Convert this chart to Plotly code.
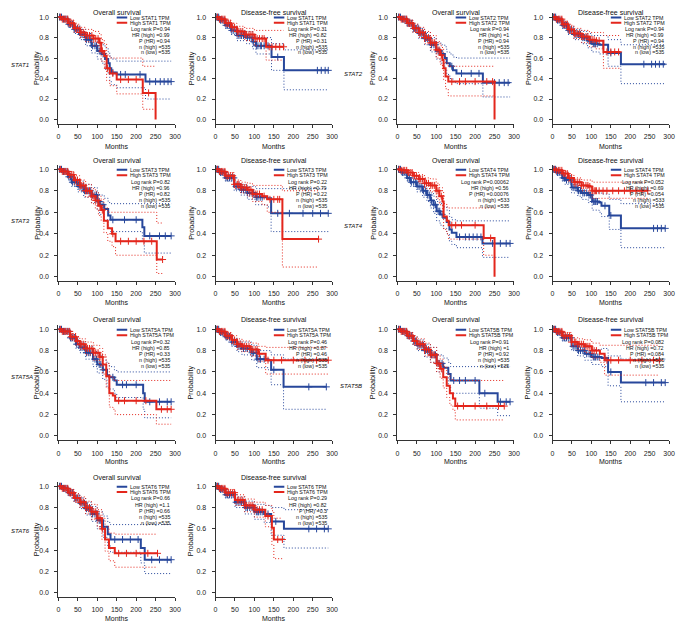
import plotly.graph_objects as go

# the page adds an 8px body margin, so the figure is 16px smaller than the window
W, H = 677, 616
OFF = 8
BLUE = "#27479b"
RED = "#e3261c"
FONT = "Liberation Sans, Arial, sans-serif"

genes = ["STAT1", "STAT2", "STAT3", "STAT4", "STAT5A", "STAT5B", "STAT6"]
month_ticks = [0, 50, 100, 150, 200, 250, 300]
prob_ticks = [0.0, 0.2, 0.4, 0.6, 0.8, 1.0]

# text in the top-right of each panel
os_logrank = ["0.94", "0.94", "0.82", "0.00062", "0.32", "0.91", "0.66"]
os_hr = ["0.99", "1", "0.96", "0.56", "0.85", "1", "1.1"]
os_phr = ["0.94", "0.94", "0.82", "0.00076", "0.33", "0.92", "0.66"]
os_nhigh = ["535", "535", "535", "533", "535", "535", "535"]
os_nlow = ["535", "535", "535", "535", "535", "535", "535"]
dfs_logrank = ["0.31", "0.94", "0.22", "0.052", "0.46", "0.082", "0.29"]
dfs_hr = ["0.82", "0.99", "0.79", "0.69", "0.87", "0.72", "0.82"]
dfs_phr = ["0.31", "0.94", "0.22", "0.054", "0.46", "0.084", "0.3"]
dfs_nhigh = ["535", "535", "535", "533", "535", "535", "535"]
dfs_nlow = ["535", "535", "535", "535", "535", "535", "535"]

# KM curves: (month, survival, lower CI, upper CI)
stat1_os_low = [(0, 1, 1, 1), (10, .98, .96, 1), (25, .93, .90, .96), (40, .88, .84, .92), (55, .83, .78, .88),
                (70, .78, .72, .84), (85, .72, .65, .79), (100, .67, .59, .75), (112, .64, .55, .73), (120, .59, .49, .70),
                (128, .55, .44, .66), (132, .50, .38, .62), (136, .46, .34, .59), (150, .44, .31, .57),
                (224, .37, .20, .57), (290, .37, .20, .57)]
stat1_os_high = [(0, 1, 1, 1), (10, .98, .96, 1), (25, .94, .91, .97), (40, .89, .85, .93), (55, .85, .80, .90),
                 (70, .82, .76, .88), (90, .79, .72, .86), (105, .75, .66, .84), (110, .67, .57, .78), (118, .62, .51, .74),
                 (124, .50, .38, .63), (132, .45, .33, .60), (150, .39, .25, .60), (217, .26, .10, .52), (250, 0, .10, .52)]
stat1_dfs_low = [(0, 1, 1, 1), (10, .97, .95, .99), (25, .92, .89, .95), (40, .87, .83, .91), (55, .82, .77, .87),
                 (80, .80, .74, .86), (95, .76, .69, .83), (104, .72, .64, .80), (144, .61, .48, .74),
                 (176, .48, .29, .68), (290, .48, .29, .68)]
stat1_dfs_high = [(0, 1, 1, 1), (10, .98, .96, 1), (25, .94, .91, .97), (40, .90, .86, .94), (55, .86, .81, .91),
                  (75, .83, .77, .89), (100, .79, .72, .87), (130, .71, .58, .87), (175, .71, .58, .87)]

stat2_os_low = [(0, 1, 1, 1), (10, .98, .96, 1), (25, .94, .91, .97), (40, .89, .85, .93), (55, .84, .79, .89),
                (70, .79, .73, .85), (85, .73, .66, .80), (100, .67, .59, .75), (112, .64, .55, .73), (122, .60, .50, .71),
                (127, .55, .44, .66), (135, .52, .40, .64), (143, .48, .36, .61), (152, .45, .35, .60),
                (220, .36, .22, .60), (290, .36, .22, .60)]
stat2_os_high = [(0, 1, 1, 1), (10, .98, .96, 1), (25, .94, .91, .97), (40, .89, .85, .93), (55, .85, .80, .90),
                 (70, .80, .74, .86), (85, .75, .68, .82), (100, .68, .60, .76), (110, .63, .54, .72), (116, .58, .48, .69),
                 (119, .50, .39, .62), (124, .42, .30, .55), (131, .37, .23, .52), (250, 0, .23, .52)]
stat2_dfs_low = [(0, 1, 1, 1), (10, .97, .95, .99), (25, .92, .89, .95), (40, .87, .83, .91), (55, .83, .78, .88),
                 (75, .80, .74, .86), (90, .77, .70, .84), (101, .74, .66, .82), (120, .73, .64, .82),
                 (143, .65, .52, .78), (176, .54, .35, .73), (290, .54, .35, .73)]
stat2_dfs_high = [(0, 1, 1, 1), (10, .98, .96, 1), (25, .93, .90, .96), (40, .88, .84, .92), (55, .84, .79, .89),
                  (75, .81, .75, .87), (95, .78, .71, .85), (110, .77, .69, .85), (131, .66, .50, .82), (175, .66, .50, .82)]

stat3_os_low = [(0, 1, 1, 1), (10, .98, .96, 1), (25, .93, .90, .96), (34, .88, .84, .92), (50, .84, .79, .89),
                (65, .80, .74, .86), (85, .76, .69, .83), (100, .70, .62, .78), (106, .67, .58, .76), (118, .63, .53, .73),
                (128, .57, .46, .69), (134, .53, .42, .68), (216, .46, .33, .68), (221, .38, .22, .68), (290, .38, .22, .68)]
stat3_os_high = [(0, 1, 1, 1), (10, .98, .96, 1), (25, .95, .92, .98), (40, .90, .86, .94), (55, .85, .80, .90),
                 (70, .80, .74, .86), (85, .75, .68, .82), (95, .71, .63, .79), (103, .66, .57, .75), (110, .62, .52, .72),
                 (117, .52, .41, .64), (127, .45, .33, .60), (138, .40, .28, .60), (147, .33, .20, .60),
                 (253, .16, .03, .50), (268, .16, .03, .50)]
stat3_dfs_low = [(0, 1, 1, 1), (10, .97, .95, .99), (25, .92, .89, .95), (48, .84, .80, .88), (65, .81, .76, .86),
                 (82, .78, .72, .84), (103, .74, .67, .82), (133, .73, .65, .82), (143, .59, .42, .82), (290, .59, .42, .82)]
stat3_dfs_high = [(0, 1, 1, 1), (10, .98, .96, 1), (25, .94, .91, .97), (48, .86, .82, .90), (65, .83, .78, .88),
                  (82, .81, .75, .87), (95, .77, .70, .85), (120, .75, .67, .85), (133, .72, .60, .85),
                  (172, .35, .09, .80), (265, .35, .09, .80)]

stat4_os_low = [(0, 1, 1, 1), (10, .97, .95, .99), (25, .92, .89, .95), (34, .88, .84, .92), (50, .84, .79, .89),
                (65, .80, .74, .86), (76, .76, .70, .82), (85, .71, .64, .78), (93, .67, .59, .75), (101, .61, .52, .70),
                (110, .58, .48, .68), (118, .55, .45, .65), (127, .51, .40, .62), (134, .44, .33, .56),
                (140, .41, .30, .53), (152, .37, .27, .52), (219, .31, .18, .52), (290, .31, .18, .52)]
stat4_os_high = [(0, 1, 1, 1), (10, .99, .98, 1), (25, .97, .95, .99), (40, .94, .91, .97), (55, .91, .87, .95),
                 (70, .87, .82, .92), (85, .85, .79, .91), (100, .80, .73, .87), (108, .75, .67, .83),
                 (116, .70, .60, .80), (119, .56, .44, .68), (127, .52, .40, .65), (132, .48, .35, .64),
                 (222, .36, .20, .64), (250, 0, .20, .64)]
stat4_dfs_low = [(0, 1, 1, 1), (10, .97, .95, .99), (25, .92, .89, .95), (32, .90, .86, .94), (49, .83, .78, .88),
                 (65, .80, .75, .85), (75, .78, .72, .84), (92, .76, .69, .83), (102, .70, .62, .78), (120, .69, .60, .78),
                 (126, .66, .56, .77), (146, .57, .44, .72), (176, .45, .27, .68), (290, .45, .27, .68)]
stat4_dfs_high = [(0, 1, 1, 1), (10, .99, .98, 1), (25, .96, .94, .98), (40, .92, .89, .95), (55, .88, .84, .92),
                  (75, .85, .80, .90), (92, .84, .78, .90), (102, .80, .73, .88), (245, .80, .73, .88)]

stat5a_os_low = [(0, 1, 1, 1), (10, .98, .96, 1), (30, .92, .89, .95), (45, .86, .82, .90), (55, .83, .78, .88),
                 (70, .78, .72, .84), (89, .72, .65, .79), (100, .67, .59, .75), (114, .62, .53, .71), (125, .57, .46, .68),
                 (131, .55, .44, .65), (144, .52, .40, .62), (150, .48, .36, .60), (218, .40, .25, .60),
                 (222, .32, .17, .60), (290, .32, .17, .60)]
stat5a_os_high = [(0, 1, 1, 1), (10, .98, .96, 1), (30, .93, .90, .96), (45, .89, .85, .93), (55, .86, .81, .91),
                  (70, .82, .76, .88), (90, .78, .71, .85), (106, .74, .66, .82), (114, .67, .58, .76),
                  (123, .56, .45, .68), (131, .40, .27, .56), (140, .38, .25, .53), (146, .33, .20, .52),
                  (252, .25, .11, .52), (290, .25, .11, .52)]
stat5a_dfs_low = [(0, 1, 1, 1), (10, .97, .95, .99), (25, .93, .90, .96), (42, .88, .84, .92), (55, .84, .79, .89),
                  (68, .82, .76, .88), (93, .78, .71, .85), (106, .72, .64, .80), (136, .71, .62, .80),
                  (143, .62, .48, .76), (175, .46, .25, .72), (285, .46, .25, .72)]
stat5a_dfs_high = [(0, 1, 1, 1), (10, .98, .96, 1), (25, .94, .91, .97), (42, .90, .86, .94), (55, .86, .81, .91),
                   (68, .84, .79, .89), (90, .81, .75, .87), (110, .77, .70, .84), (129, .71, .58, .83),
                   (290, .71, .58, .83)]

stat5b_os_low = [(0, 1, 1, 1), (10, .98, .96, 1), (25, .94, .91, .97), (40, .89, .85, .93), (51, .85, .80, .90),
                 (70, .80, .74, .86), (85, .76, .69, .83), (101, .68, .60, .76), (118, .64, .55, .73),
                 (131, .58, .47, .69), (137, .52, .40, .65), (211, .40, .26, .65), (258, .32, .19, .65),
                 (290, .32, .19, .65)]
stat5b_os_high = [(0, 1, 1, 1), (10, .98, .96, 1), (25, .94, .91, .97), (40, .89, .85, .93), (51, .86, .81, .91),
                  (70, .81, .75, .87), (85, .76, .69, .83), (101, .68, .60, .76), (110, .63, .54, .72),
                  (118, .55, .45, .65), (127, .47, .36, .58), (135, .40, .29, .53), (143, .35, .24, .52),
                  (149, .28, .15, .52), (275, .28, .15, .52)]
stat5b_dfs_low = [(0, 1, 1, 1), (10, .97, .95, .99), (25, .92, .89, .95), (49, .84, .80, .88), (65, .80, .75, .85),
                  (83, .77, .71, .83), (101, .74, .67, .81), (126, .73, .65, .82), (143, .60, .47, .75),
                  (176, .50, .32, .72), (290, .50, .32, .72)]
stat5b_dfs_high = [(0, 1, 1, 1), (10, .98, .96, 1), (25, .94, .91, .97), (49, .88, .84, .92), (65, .86, .81, .91),
                   (83, .84, .78, .90), (101, .80, .73, .87), (122, .77, .69, .85), (134, .71, .57, .85),
                   (275, .71, .57, .85)]

stat6_os_low = [(0, 1, 1, 1), (10, .98, .96, 1), (25, .94, .91, .97), (40, .89, .85, .93), (55, .84, .79, .89),
                (70, .79, .73, .85), (85, .74, .67, .81), (100, .68, .60, .76), (115, .62, .52, .72),
                (127, .55, .44, .66), (134, .50, .38, .64), (212, .42, .28, .64), (222, .31, .18, .64),
                (290, .31, .18, .64)]
stat6_os_high = [(0, 1, 1, 1), (10, .98, .96, 1), (25, .94, .91, .97), (40, .89, .85, .93), (55, .85, .80, .90),
                 (70, .80, .74, .86), (85, .76, .69, .83), (100, .70, .62, .78), (112, .60, .50, .70),
                 (120, .50, .39, .62), (130, .42, .30, .56), (145, .37, .24, .55), (255, .37, .24, .55)]
stat6_dfs_low = [(0, 1, 1, 1), (10, .97, .95, .99), (25, .92, .89, .95), (50, .85, .80, .90), (75, .80, .74, .86),
                 (100, .76, .69, .83), (125, .74, .66, .82), (143, .67, .54, .80), (176, .60, .42, .78),
                 (290, .60, .42, .78)]
stat6_dfs_high = [(0, 1, 1, 1), (10, .98, .96, 1), (25, .94, .91, .97), (50, .87, .82, .92), (75, .82, .76, .88),
                  (100, .78, .71, .85), (128, .72, .62, .82), (145, .61, .45, .77), (150, .50, .32, .70),
                  (172, .50, .32, .70)]

# censoring times (months)
early_low = [3, 8, 13, 17, 22, 27, 31, 36, 42, 47, 53, 58, 63, 67, 72, 78, 82, 88, 94, 98, 105, 109, 115]
early_high = [5, 10, 15, 19, 24, 29, 33, 38, 44, 49, 56, 60, 65, 70, 75, 80, 86, 91, 96, 102, 107, 113]
stat1_os_low_cens = [140, 160, 172, 210, 235, 250, 262, 272, 282, 290]
stat1_os_high_cens = [126, 140, 160, 180, 200, 232]
stat1_dfs_low_cens = [118, 125, 135, 160, 262, 272, 282, 290]
stat1_dfs_high_cens = [120, 125, 138, 145, 155, 165, 175]
stat2_os_low_cens = [140, 165, 190, 210, 250, 262, 275, 285]
stat2_os_high_cens = [140, 160, 175, 200, 230, 245]
stat2_dfs_low_cens = [110, 130, 150, 235, 255, 265, 275, 285]
stat2_dfs_high_cens = [120, 140, 150, 160, 170]
stat3_os_low_cens = [140, 170, 200, 235, 260, 275, 290]
stat3_os_high_cens = [140, 160, 180, 200, 220, 240, 268]
stat3_dfs_low_cens = [120, 160, 190, 225, 250, 270, 290]
stat3_dfs_high_cens = [125, 140, 150, 160, 165, 265]
stat4_os_low_cens = [160, 175, 185, 195, 205, 215, 245, 265, 280, 290]
stat4_os_high_cens = [140, 150, 165, 200, 240]
stat4_dfs_low_cens = [110, 115, 135, 150, 260, 270, 280, 290]
stat4_dfs_high_cens = [110, 120, 130, 140, 155, 170, 185, 200, 215, 230, 245]
stat5a_os_low_cens = [140, 165, 175, 200, 235, 260, 280, 290]
stat5a_os_high_cens = [155, 170, 200, 225, 265, 280, 290]
stat5a_dfs_low_cens = [115, 125, 150, 240, 285]
stat5a_dfs_high_cens = [135, 150, 170, 200, 230, 260, 290]
stat5b_os_low_cens = [145, 160, 175, 200, 225, 265, 280, 290]
stat5b_os_high_cens = [155, 170, 200, 230, 260, 275]
stat5b_dfs_low_cens = [110, 120, 135, 150, 240, 260, 280, 290]
stat5b_dfs_high_cens = [140, 150, 170, 200, 230, 260, 275]
stat6_os_low_cens = [145, 165, 185, 205, 240, 260, 280, 290]
stat6_os_high_cens = [155, 175, 200, 230, 255]
stat6_dfs_low_cens = [110, 120, 135, 155, 240, 260, 280, 290]
stat6_dfs_high_cens = [120, 135, 160, 172]

os_low = [stat1_os_low, stat2_os_low, stat3_os_low, stat4_os_low, stat5a_os_low, stat5b_os_low, stat6_os_low]
os_high = [stat1_os_high, stat2_os_high, stat3_os_high, stat4_os_high, stat5a_os_high, stat5b_os_high, stat6_os_high]
dfs_low = [stat1_dfs_low, stat2_dfs_low, stat3_dfs_low, stat4_dfs_low, stat5a_dfs_low, stat5b_dfs_low, stat6_dfs_low]
dfs_high = [stat1_dfs_high, stat2_dfs_high, stat3_dfs_high, stat4_dfs_high, stat5a_dfs_high, stat5b_dfs_high,
            stat6_dfs_high]
os_low_cens = [stat1_os_low_cens, stat2_os_low_cens, stat3_os_low_cens, stat4_os_low_cens, stat5a_os_low_cens,
               stat5b_os_low_cens, stat6_os_low_cens]
os_high_cens = [stat1_os_high_cens, stat2_os_high_cens, stat3_os_high_cens, stat4_os_high_cens,
                stat5a_os_high_cens, stat5b_os_high_cens, stat6_os_high_cens]
dfs_low_cens = [stat1_dfs_low_cens, stat2_dfs_low_cens, stat3_dfs_low_cens, stat4_dfs_low_cens,
                stat5a_dfs_low_cens, stat5b_dfs_low_cens, stat6_dfs_low_cens]
dfs_high_cens = [stat1_dfs_high_cens, stat2_dfs_high_cens, stat3_dfs_high_cens, stat4_dfs_high_cens,
                 stat5a_dfs_high_cens, stat5b_dfs_high_cens, stat6_dfs_high_cens]

# panel boxes, in window pixels
col_left = [57, 216, 400, 557]
col_width = 118
row_top = [13, 165, 325, 482]
row_height = [110.6, 116, 115.2, 115]
title_y = [12.5, 160.7, 319.5, 477]
months_y = [146, 302.7, 461, 618]
prob_x_gap = [22, 25, 25, 25]
# (x, y, anchor)
gene_label_pos = [(8.5, 64, "left"), (356, 74, "center"), (8.5, 221, "left"), (356, 225, "center"),
                  (8.5, 376, "left"), (353, 385, "center"), (8.5, 530, "left")]


def px_x(v):
    return (v - OFF) / W


def px_y(v):
    return 1 - (v - OFF) / H


def surv_at(curve, t):
    y = curve[0][1]
    for row in curve:
        if row[0] <= t:
            y = row[1]
    return y


fig = go.Figure()
annotations = []
shapes = []
layout_axes = {}

panel = 0
for g, gene in enumerate(genes):
    row, pair = g // 2, (g % 2) * 2
    for kind in range(2):
        panel += 1
        col = pair + kind
        xa = "x" if panel == 1 else f"x{panel}"
        ya = "y" if panel == 1 else f"y{panel}"
        left, top, hgt = col_left[col], row_top[row], row_height[row]
        axis_common = dict(showgrid=False, zeroline=False, showline=True, linecolor="#333", linewidth=1,
                           ticks="outside", ticklen=3, tickwidth=1, tickcolor="#333",
                           tickfont=dict(size=7, color="#222", family=FONT))
        layout_axes["xaxis" if panel == 1 else f"xaxis{panel}"] = dict(
            axis_common, domain=[px_x(left), px_x(left + col_width)], range=[0, 300], tickvals=month_ticks,
            anchor=ya, ticklabelstandoff=3)
        layout_axes["yaxis" if panel == 1 else f"yaxis{panel}"] = dict(
            axis_common, domain=[px_y(top + hgt), px_y(top)], range=[-0.04, 1.04], tickvals=prob_ticks,
            tickformat=".1f", anchor=xa, ticklabelstandoff=4)

        if kind == 0:
            curves = [(os_low[g], os_low_cens[g] + early_low, BLUE), (os_high[g], os_high_cens[g] + early_high, RED)]
            stats = [os_logrank[g], os_hr[g], os_phr[g], os_nhigh[g], os_nlow[g]]
            title = "Overall survival"
        else:
            curves = [(dfs_low[g], dfs_low_cens[g] + early_low, BLUE),
                      (dfs_high[g], dfs_high_cens[g] + early_high, RED)]
            stats = [dfs_logrank[g], dfs_hr[g], dfs_phr[g], dfs_nhigh[g], dfs_nlow[g]]
            title = "Disease-free survival"

        for curve, cens, color in curves:
            t = [r[0] for r in curve]
            for idx in (2, 3):
                fig.add_trace(go.Scatter(x=t, y=[r[idx] for r in curve], mode="lines", line_shape="hv",
                                         line=dict(color=color, width=1, dash="1px,2px"),
                                         xaxis=xa, yaxis=ya, showlegend=False, hoverinfo="skip"))
            fig.add_trace(go.Scatter(x=t, y=[r[1] for r in curve], mode="lines", line_shape="hv",
                                     line=dict(color=color, width=2), xaxis=xa, yaxis=ya, showlegend=False))
            ct = [c for c in cens if c <= t[-1] and c > 0]
            fig.add_trace(go.Scatter(x=ct, y=[surv_at(curve, c) for c in ct], mode="markers",
                                     marker=dict(symbol="cross-thin", size=5, line=dict(color=color, width=1)),
                                     xaxis=xa, yaxis=ya, showlegend=False))

        # legend
        for k, (lab, color) in enumerate([(f"Low {gene} TPM", BLUE), (f"High {gene} TPM", RED)]):
            yy = 0.995 - k * 0.05
            shapes.append(dict(type="line", xref=xa, yref=ya, x0=150, x1=177, y0=yy, y1=yy,
                               line=dict(color=color, width=2)))
            annotations.append(dict(xref=xa, yref=ya, x=179, y=yy, text=lab, showarrow=False, xanchor="left",
                                    yanchor="middle", font=dict(size=5.3, color="#111", family=FONT)))
        lines = [f"Log rank P={stats[0]}", f"HR (high) ={stats[1]}", f"P (HR) ={stats[2]}",
                 f"n (high) ={stats[3]}", f"n (low) ={stats[4]}"]
        for k, txt in enumerate(lines):
            annotations.append(dict(xref=xa, yref=ya, x=293, y=0.885 - k * 0.0575, text=txt, showarrow=False,
                                    xanchor="right", yanchor="middle",
                                    font=dict(size=5.3, color="#111", family=FONT)))

        # titles
        cx = left + col_width / 2
        annotations.append(dict(xref="paper", yref="paper", x=px_x(cx), y=px_y(title_y[row]), text=title,
                                showarrow=False, xanchor="center", yanchor="middle", borderpad=0,
                                font=dict(size=7, color="#111", family=FONT)))
        annotations.append(dict(xref="paper", yref="paper", x=px_x(cx), y=px_y(months_y[row]),
                                text="Months", showarrow=False, xanchor="center", yanchor="middle",
                                borderpad=0, font=dict(size=7, color="#111", family=FONT)))
        annotations.append(dict(xref="paper", yref="paper", x=px_x(left - prob_x_gap[col]), y=px_y(top + hgt / 2),
                                text="Probability", textangle=-90, showarrow=False, xanchor="center",
                                yanchor="middle", font=dict(size=7.2, color="#111", family=FONT)))

    gx, gy, anchor = gene_label_pos[g]
    annotations.append(dict(xref="paper", yref="paper", x=px_x(gx), y=px_y(gy), text=f"<i>{gene}</i>",
                            showarrow=False, xanchor=anchor, yanchor="middle", borderpad=0,
                            font=dict(size=6.1, color="#111", family=FONT)))

fig.update_layout(width=W, height=H, margin=dict(l=0, r=0, t=0, b=0), paper_bgcolor="white",
                  plot_bgcolor="white", showlegend=False, annotations=annotations, shapes=shapes,
                  font=dict(family=FONT), **layout_axes)

fig.write_html("out.html")
